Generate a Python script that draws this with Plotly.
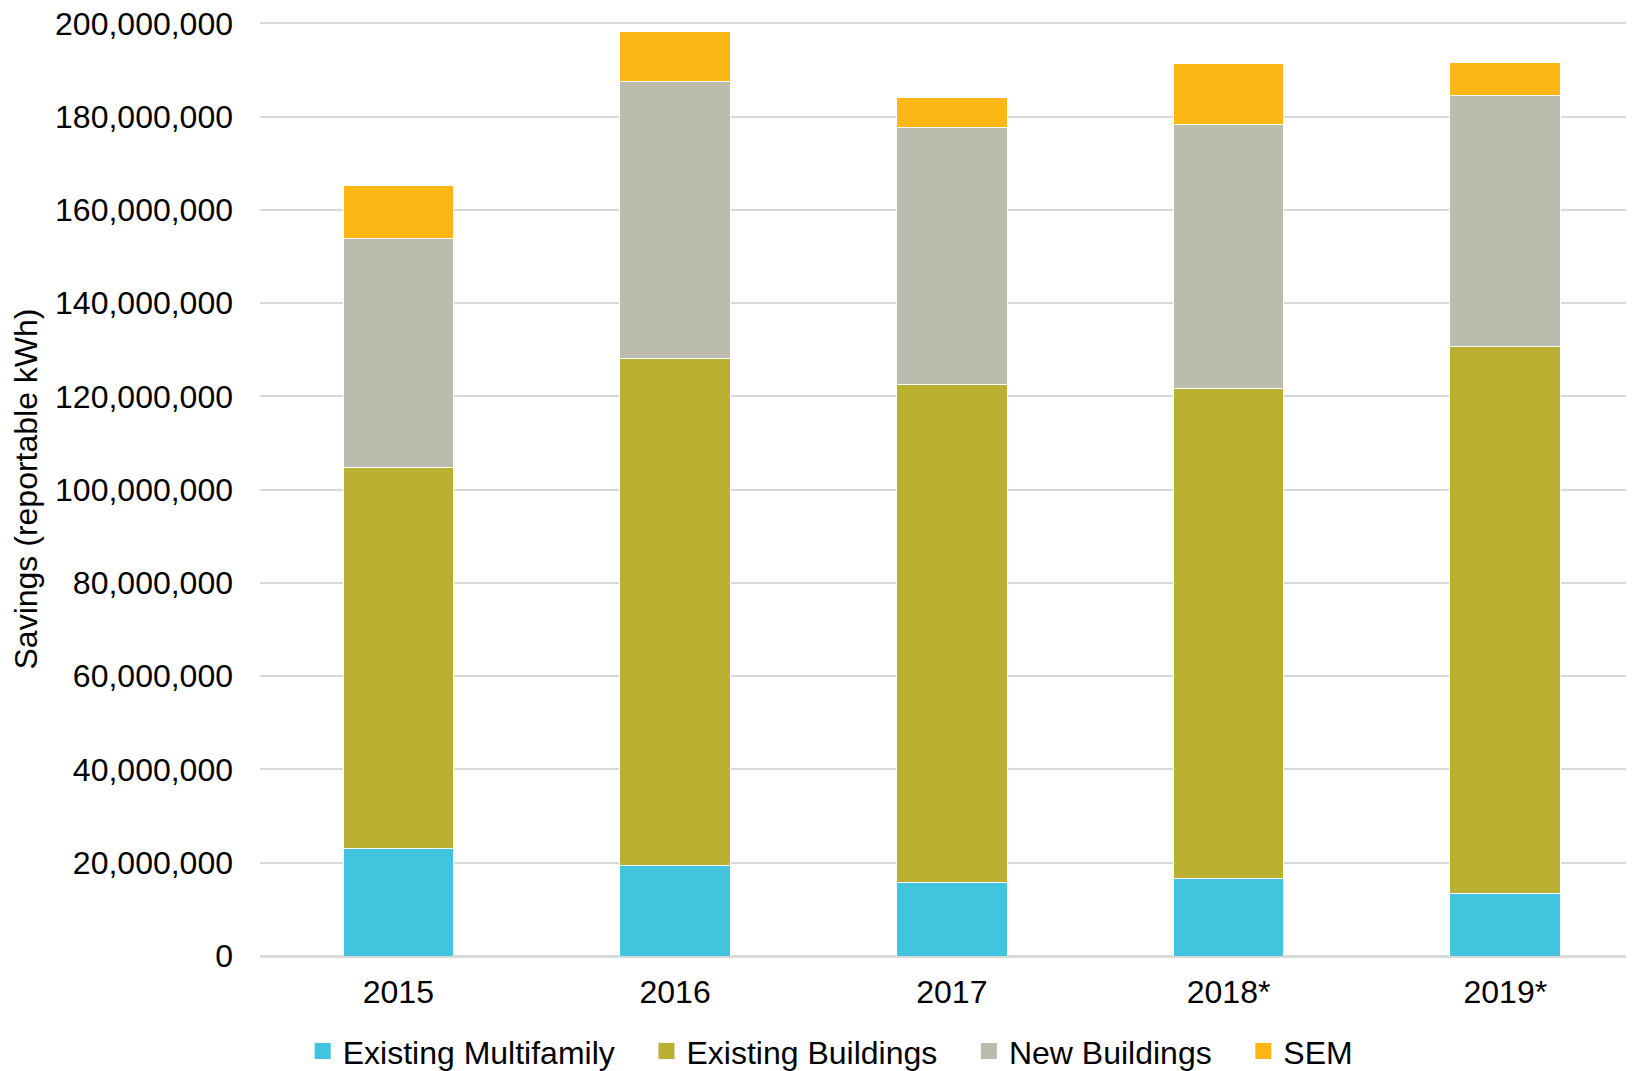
import plotly.graph_objects as go

years = ['2015', '2016', '2017', '2018*', '2019*']

existing_multifamily = [23.0e6, 19.4e6, 15.8e6, 16.7e6, 13.4e6]
existing_buildings = [81.7e6, 108.7e6, 106.7e6, 105.0e6, 117.4e6]
new_buildings = [49.1e6, 59.4e6, 55.2e6, 56.6e6, 53.8e6]
sem = [11.4e6, 10.7e6, 6.5e6, 13.0e6, 7.1e6]

y_ticks = list(range(0, 200_000_001, 20_000_000))

# non-breaking spaces widen the gap between legend entries
pad = '\u00a0' * 3
series = [
    ('Existing Multifamily', existing_multifamily, '#41C4DE', pad),
    ('Existing Buildings', existing_buildings, '#B9AF30', pad),
    ('New Buildings', new_buildings, '#BBBCAD', pad),
    ('SEM', sem, '#FDB714', ''),
]

fig = go.Figure()

for name, values, color, gap in series:
    fig.add_trace(go.Bar(
        name=name,
        x=years,
        y=values,
        marker_color=color,
        marker_line=dict(color='white', width=1),
        legendgroup=name,
        showlegend=False
    ))
    # legend entry with a bigger square marker
    fig.add_trace(go.Scatter(
        name=name + gap,
        x=[None],
        y=[None],
        mode='markers',
        marker=dict(symbol='square', size=16, color=color),
        legendgroup=name
    ))

# page body has an 8px margin, so the figure is sized to fit inside the window
fig.update_layout(
    barmode='stack',
    bargap=0.6,
    width=1626,
    height=1063,
    margin=dict(l=252, r=0, t=14, b=115, autoexpand=False),
    plot_bgcolor='white',
    paper_bgcolor='white',
    font=dict(family='Liberation Sans, Arial, sans-serif', size=32, color='black'),
    legend=dict(
        orientation='h',
        x=0.415,
        xanchor='center',
        y=-0.102,
        yanchor='middle',
        font=dict(size=32),
        traceorder='normal',
        itemwidth=30
    ),
    xaxis=dict(
        range=[-0.5, 4.465],
        showgrid=False,
        showline=False,
        ticks='',
        ticklabelstandoff=14
    ),
    yaxis=dict(
        # a touch above 200M so the top gridline is still drawn
        range=[0, 200_300_000],
        tickvals=y_ticks,
        tickformat=',d',
        ticklabeloverflow='allow',
        showgrid=True,
        gridcolor='#d9d9d9',
        gridwidth=2,
        zeroline=True,
        zerolinecolor='#d9d9d9',
        zerolinewidth=3,
        ticks='',
        ticklabelstandoff=26,
        title=dict(text='Savings (reportable kWh)', font=dict(size=32), standoff=11)
    )
)

fig.write_html('out.html')
